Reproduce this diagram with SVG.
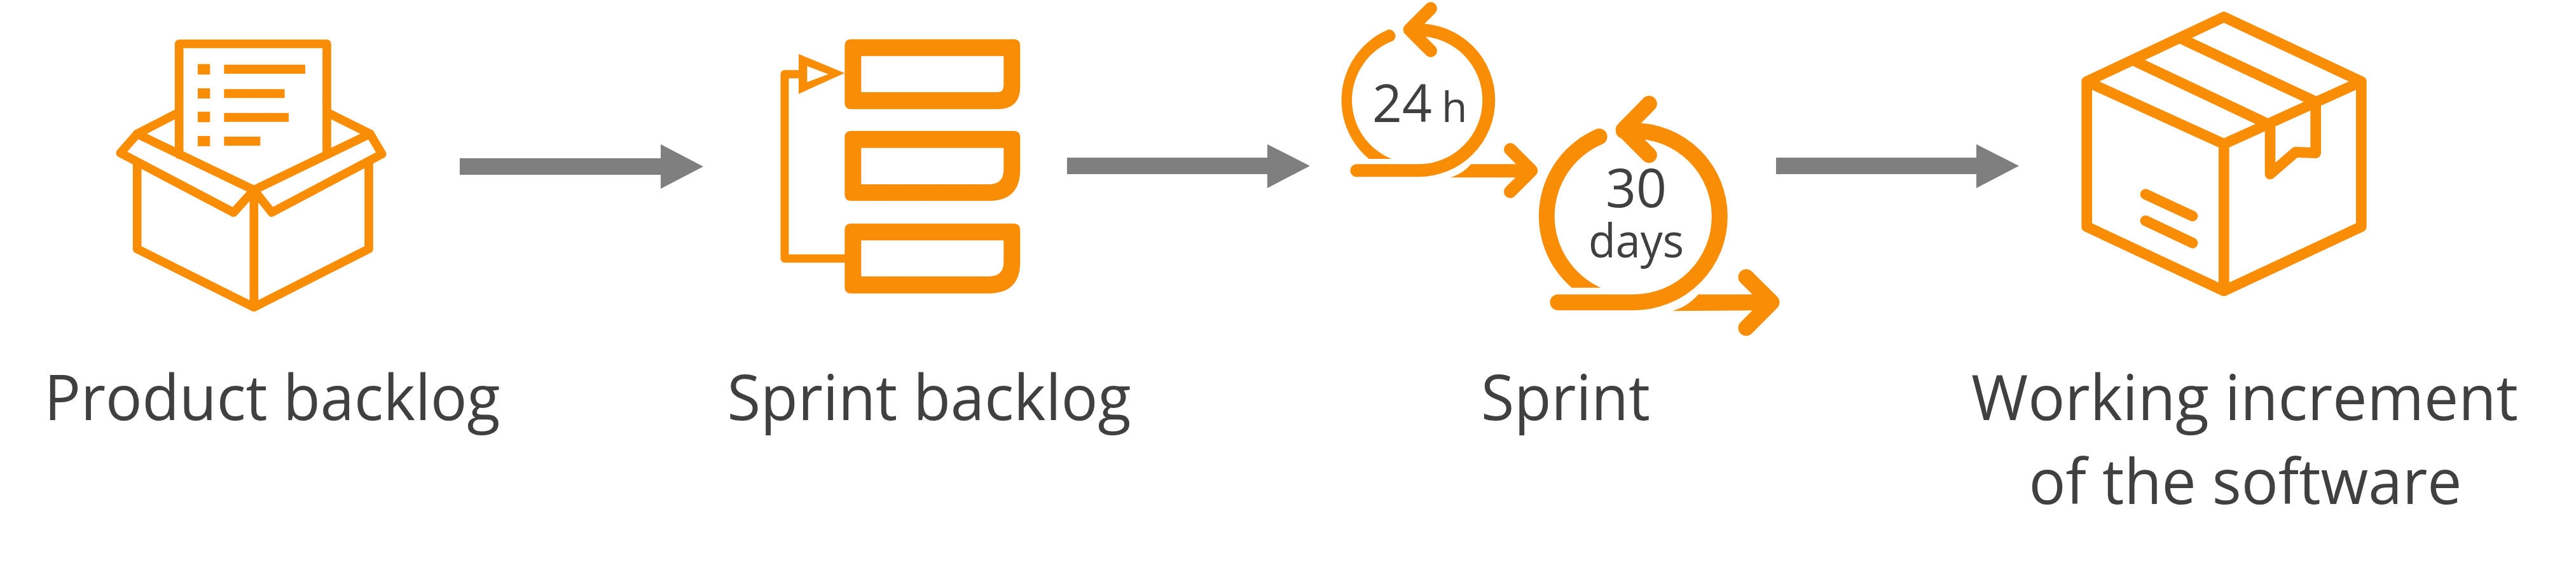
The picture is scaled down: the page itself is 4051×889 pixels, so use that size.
<svg xmlns="http://www.w3.org/2000/svg" width="4051" height="889" viewBox="0 0 4051 889">
<style>
.o{fill:none;stroke:#f98e06;stroke-linecap:round;stroke-linejoin:round}
.f{fill:#f98e06}
.g{fill:#7f7f7f}
text{font-family:"Open Sans","Noto Sans","Liberation Sans",sans-serif;fill:#404040}
.l{font-size:98px;text-anchor:middle}
</style>
<rect width="4051" height="889" fill="#fff"/>
<g id="connectors">
<polygon class="g" points="723,249 1039,249 1039,227 1106,262 1039,297 1039,275 723,275"/>
<polygon class="g" points="1678,248 1993,248 1993,227 2060,261 1993,296 1993,274 1678,274"/>
<polygon class="g" points="2793,248 3108,248 3108,227 3175,261 3108,296 3108,274 2793,274"/>
</g>
<g id="product-backlog">
<g transform="translate(150 0) scale(.33333)">
<path class="o" stroke-width="41" d="M395,730V207H1092V730M197,632L395,530M1092,530L1296,632M197,770V1175L748,1450L1290,1175V770M748,897V1450"/>
<path class="o" stroke-width="41" d="M197,632L118,722L652,1003L748,897ZM748,897L832,1003L1352,727L1296,632Z"/>
<path class="f" d="M483,302h58v50h-58zM483,417h58v48h-58zM483,527h58v50h-58zM483,642h58v48h-58zM607,305H990V348H607zM607,421H893V463H607zM607,533H912V575H607zM607,645H778V688H607z"/>
</g>
<text class="l" x="428" y="661" textLength="717" lengthAdjust="spacingAndGlyphs">Product backlog</text>
</g>
<g id="sprint-backlog">
<g transform="translate(1180 30) scale(.33333)">
<path class="f" fill-rule="evenodd" d="M475,95H1243Q1273,95 1273,125V320Q1273,425 1165,425H475Q445,425 445,395V125Q445,95 475,95ZM523,175H1195V315Q1195,345 1165,345H523Z"/>
<path class="f" fill-rule="evenodd" d="M475,528H1243Q1273,528 1273,558V710Q1273,858 1125,858H475Q445,858 445,828V558Q445,528 475,528ZM523,608H1195V710Q1195,780 1125,780H523Z"/>
<path class="f" fill-rule="evenodd" d="M475,965H1243Q1273,965 1273,995V1147Q1273,1295 1125,1295H475Q445,1295 445,1265V995Q445,965 475,965ZM523,1045H1195V1147Q1195,1215 1125,1215H523Z"/>
<path class="o" stroke-width="39" d="M445,1130H162V260H240"/>
<path class="f" fill-rule="evenodd" d="M228,165L445,255L228,353ZM268,222V298L368,260Z"/>
</g>
<text class="l" x="1461" y="661" textLength="635" lengthAdjust="spacingAndGlyphs">Sprint backlog</text>
</g>
<g id="sprint">
<g transform="translate(2060 0) scale(.33333)">
<path class="o" stroke-width="60" d="M220,805H512A332,332 0 0 0 512,141H480M570,40L470,140L570,240M945,705L1045,805L945,905"/>
<path class="f" d="M278,750H385A299,299 0 0 1 392,193A30,30 0 0 0 368,140A362,362 0 0 0 278,750ZM660,838Q720,822 760,775H1045V838Z"/>
</g>
<text x="2158" y="192" font-size="82">24</text>
<text x="2267" y="192" font-size="66">h</text>
<g transform="translate(2380 130) scale(.33333)">
<path class="o" stroke-width="75" d="M210,1037H568A405,405 0 0 0 568,227H520M640,100L520,222L640,342M1098,918L1218,1037L1098,1158"/>
<path class="f" d="M275,968H412A370,370 0 0 1 420,290A38,38 0 0 0 390,220A446,446 0 0 0 275,968ZM748,1078Q820,1060 872,1000H1218V1075Z"/>
</g>
<text x="2573" y="326" font-size="84" text-anchor="middle">30</text>
<text x="2573" y="405" font-size="73" text-anchor="middle" textLength="150" lengthAdjust="spacingAndGlyphs">days</text>
<text class="l" x="2462" y="661" textLength="266" lengthAdjust="spacingAndGlyphs">Sprint</text>
</g>
<g id="working-increment">
<g transform="translate(3240 0) scale(.33333)">
<path class="o" stroke-width="50" d="M772,80L1420,385V1070L772,1373L125,1070V385ZM125,385L772,680L1420,385M772,680V1373M345,285L990,590V822L1110,718L1205,722V480L565,180M402,917L624,1020M402,1042L624,1147"/>
</g>
<text class="l" x="3530" y="661" textLength="860" lengthAdjust="spacingAndGlyphs">Working increment</text>
<text class="l" x="3531" y="793" textLength="681" lengthAdjust="spacingAndGlyphs">of the software</text>
</g>
</svg>
